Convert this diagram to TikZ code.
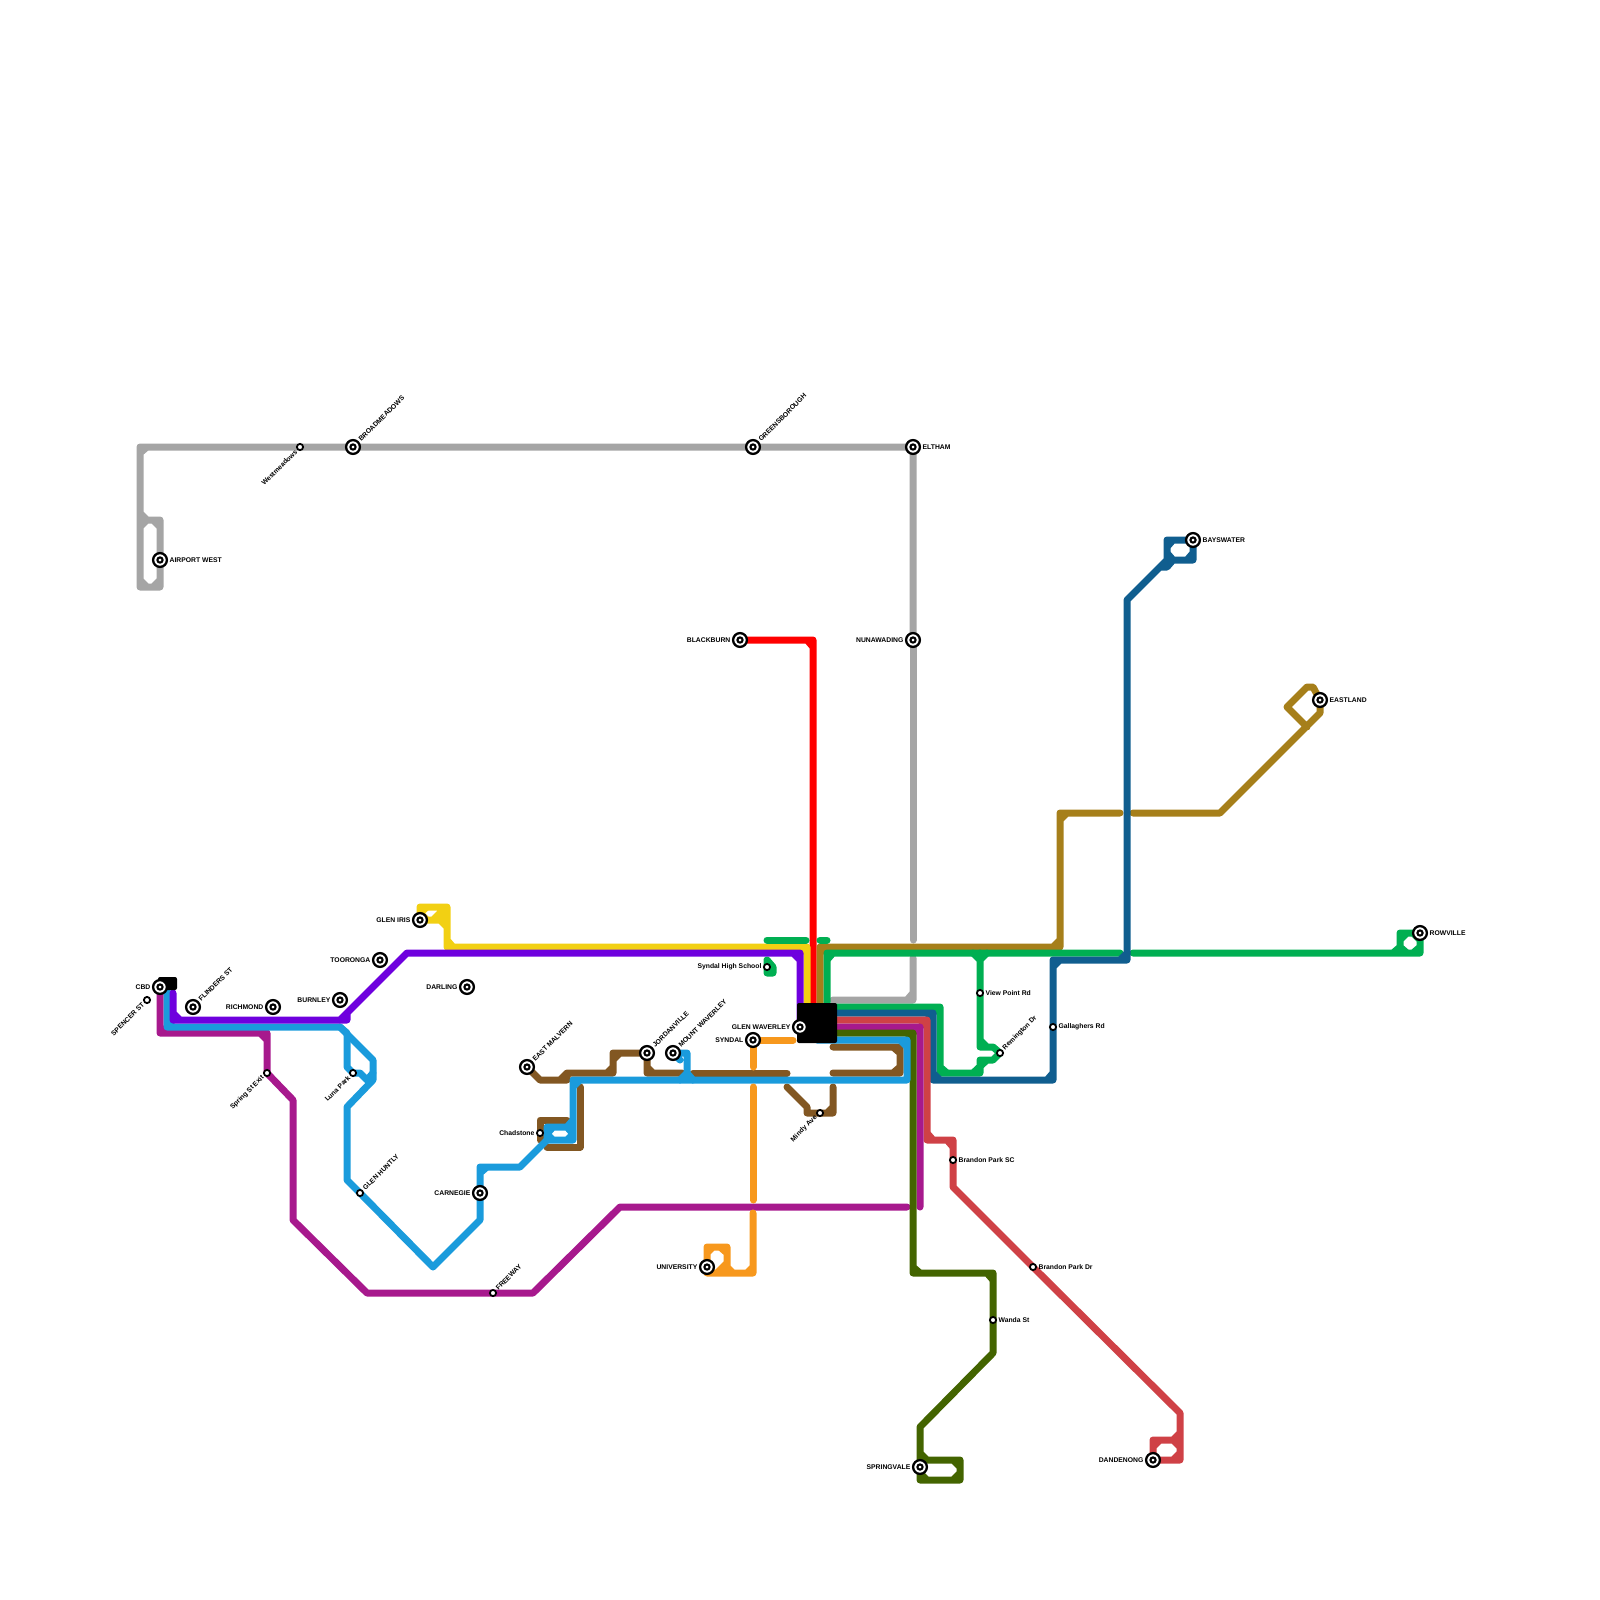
\documentclass[tikz,border=0pt]{standalone}
\usepackage{fontspec}
\setmainfont{Liberation Sans}
\usepackage{xcolor}
\definecolor{cGray}{HTML}{A5A5A5}
\definecolor{cRed}{HTML}{FF0000}
\definecolor{cYellow}{HTML}{F2D013}
\definecolor{cPurple}{HTML}{6E00DE}
\definecolor{cCyan}{HTML}{1A9BDC}
\definecolor{cMagenta}{HTML}{A7198D}
\definecolor{cBrown}{HTML}{825722}
\definecolor{cGold}{HTML}{A67F1A}
\definecolor{cGreen}{HTML}{00AF52}
\definecolor{cNavy}{HTML}{105E8F}
\definecolor{cCoral}{HTML}{CF4146}
\definecolor{cMoss}{HTML}{436400}
\definecolor{cOrange}{HTML}{F7981D}
\usetikzlibrary{backgrounds}
\tikzset{
  node-major/.style={draw=black,line width=1.15pt,fill=white,circle,inner sep=0pt,
    minimum size=6.9pt,
    path picture={\draw[line width=1.05pt] (path picture bounding box.center) circle (1.3pt);}},
  node-minor/.style={draw=black,line width=0.9pt,fill=white,circle,inner sep=0pt,
    minimum size=3.1pt},
  node-hub/.style={fill=black,rounded corners=1pt,inner sep=0pt},
  lbl/.style={font=\fontsize{3.4}{4}\selectfont\bfseries,inner sep=0.6pt},
  lbl-ne/.style={lbl,rotate=45,anchor=west},
  lbl-sw/.style={lbl,rotate=45,anchor=east},
  line-base/.style={line width=3.5pt,line cap=round,line join=round},
  line-gray/.style={line-base,draw=cGray},
  line-red/.style={line-base,draw=cRed},
  line-yellow/.style={line-base,draw=cYellow},
  line-purple/.style={line-base,draw=cPurple},
  line-cyan/.style={line-base,draw=cCyan},
  line-magenta/.style={line-base,draw=cMagenta},
  line-brown/.style={line-base,draw=cBrown},
  line-gold/.style={line-base,draw=cGold},
  line-green/.style={line-base,draw=cGreen},
  line-navy/.style={line-base,draw=cNavy},
  line-coral/.style={line-base,draw=cCoral},
  line-moss/.style={line-base,draw=cMoss},
  line-orange/.style={line-base,draw=cOrange},
}
\begin{document}
\begin{tikzpicture}[x=0.5pt,y=-0.5pt]
  \useasboundingbox (0,0) rectangle (1600,1600);
  % interchange blocks
  \node[node-hub,minimum width=9.5pt,minimum height=6.5pt] (cbdhub) at (167.5,983.5) {};
  \node[node-hub,minimum width=20pt,minimum height=20pt]   (glenhub) at (817,1023) {};
  % stations
  \node[node-minor,label={[lbl-sw]225:Westmeadows}]    (westmeadows) at (300,447) {};
  \node[node-major,label={[lbl-ne]45:BROADMEADOWS}]    (broadmeadows) at (353,447) {};
  \node[node-major,label={[lbl-ne]45:GREENSBOROUGH}]   (greensborough) at (753,447) {};
  \node[node-major,label={[lbl]right:ELTHAM}]          (eltham) at (913,447) {};
  \node[node-major,label={[lbl]right:AIRPORT WEST}]    (airportwest) at (160,560) {};
  \node[node-major,label={[lbl]left:BLACKBURN}]        (blackburn) at (740,640) {};
  \node[node-major,label={[lbl]left:NUNAWADING}]       (nunawading) at (913,640) {};
  \node[node-major,label={[lbl]right:BAYSWATER}]       (bayswater) at (1193,540) {};
  \node[node-major,label={[lbl]right:EASTLAND}]        (eastland) at (1320,700) {};
  \node[node-major,label={[lbl]right:ROWVILLE}]        (rowville) at (1420,933) {};
  \node[node-major,label={[lbl]left:GLEN IRIS}]        (gleniris) at (420,920) {};
  \node[node-major,label={[lbl]left:TOORONGA}]         (tooronga) at (380,960) {};
  \node[node-major,label={[lbl]left:DARLING}]          (darling) at (467,987) {};
  \node[node-major,label={[lbl]left:BURNLEY}]          (burnley) at (340,1000) {};
  \node[node-major,label={[lbl]left:RICHMOND}]         (richmond) at (273,1007) {};
  \node[node-major,label={[lbl-ne]45:FLINDERS ST}]     (flinders) at (193,1007) {};
  \node[node-major,label={[lbl]left:CBD}]              (cbd) at (160,987) {};
  \node[node-minor,label={[lbl-sw]225:SPENCER ST}]     (spencer) at (147,1000) {};
  \node[node-minor,label={[lbl-sw]225:Spring St Exit}] (springst) at (267,1073) {};
  \node[node-minor,label={[lbl-sw]225:Luna Park}]      (lunapark) at (353,1073) {};
  \node[node-minor,label={[lbl-ne]45:GLEN HUNTLY}]     (glenhuntly) at (360,1193) {};
  \node[node-major,label={[lbl]left:CARNEGIE}]         (carnegie) at (480,1193) {};
  \node[node-minor,label={[lbl-ne]45:FREEWAY}]         (freeway) at (493,1293) {};
  \node[node-minor,label={[lbl]left:Chadstone}]        (chadstone) at (540,1133) {};
  \node[node-major,label={[lbl-ne]45:EAST MALVERN}]    (eastmalvern) at (527,1067) {};
  \node[node-major,label={[lbl-ne]45:JORDANVILLE}]     (jordanville) at (647,1053) {};
  \node[node-major,label={[lbl-ne]45:MOUNT WAVERLEY}]  (mountwaverley) at (673,1053) {};
  \node[node-major,label={[lbl]left:SYNDAL}]           (syndal) at (753,1040) {};
  \node[node-major,label={[lbl]left:GLEN WAVERLEY}]    (glenwaverley) at (800,1027) {};
  \node[node-minor,label={[lbl]left:Syndal High School}] (syndalhigh) at (767,967) {};
  \node[node-major,label={[lbl]left:UNIVERSITY}]       (university) at (707,1267) {};
  \node[node-minor,label={[lbl-sw]225:Mindy Ave}]      (mindy) at (820,1113) {};
  \node[node-minor,label={[lbl]right:View Point Rd}]   (viewpoint) at (980,993) {};
  \node[node-minor,label={[lbl-ne]45:Remington Dr}]    (remington) at (1000,1053) {};
  \node[node-minor,label={[lbl]right:Gallaghers Rd}]   (gallaghers) at (1053,1027) {};
  \node[node-minor,label={[lbl]right:Brandon Park SC}] (brandonsc) at (953,1160) {};
  \node[node-minor,label={[lbl]right:Brandon Park Dr}] (brandondr) at (1033,1267) {};
  \node[node-minor,label={[lbl]right:Wanda St}]        (wanda) at (993,1320) {};
  \node[node-major,label={[lbl]left:SPRINGVALE}]       (springvale) at (920,1467) {};
  \node[node-major,label={[lbl]left:DANDENONG}]        (dandenong) at (1153,1460) {};
  % lines
  \begin{scope}[on background layer]
    \draw[line-gray] (nunawading.center) -- (eltham.center) -- (greensborough.center)
      -- (broadmeadows.center) -- (westmeadows.center) -- (140,447) -- (140,587) -- (160,587)
      -- (airportwest.center) -- (160,520) -- (147,520) -- (140,513)
      (140,453) -- (147,447) (140,527) -- (147,520) (153,520) -- (160,527)
      (140,580) -- (147,587) (153,587) -- (160,580);
    \draw[line-gray] (nunawading.center) -- (913,940);
    \draw[line-gray] (913,958) -- (913,1000) -- (833,1000) (913,993) -- (907,1000);
    \draw[line-red] (blackburn.center) -- (813,640) -- (glenhub.center -| 813,0)
      (807,640) -- (813,647);
    \draw[line-yellow] (glenhub.center -| 807,0) -- (807,947) -- (447,947) -- (447,907)
      -- (420,907) -- (gleniris.center) -- (447,920)
      (447,940) -- (453,947) (440,920) -- (447,927) (800,947) -- (807,953)
      (420,913) -- (427,907) (420,913) -- (427,920) (433,920) -- (440,913) -- (447,913);
    \draw[line-gold] (glenhub.center -| 820,0) -- (820,947) -- (1060,947) -- (1060,813) -- (1120,813)
      (1053,947) -- (1060,940) (1060,820) -- (1067,813) (820,953) -- (827,947);
    \draw[line-gold] (1133,813) -- (1220,813) -- (eastland.center |- 0,713) -- (eastland.center)
      -- (1313,687) -- (1307,687) -- (1287,707) -- (1307,727);
    \draw[line-green] (767,940) -- (806,940) (820,940) -- (827,940);
    \draw[line-green] (glenhub.center -| 827,0) -- (827,953) -- (1120,953) (827,960) -- (833,953);
    \draw[line-green] (1133,953) -- (1420,953) -- (rowville.center) -- (1400,933) -- (1400,947)
      -- (1393,953)
      (1400,940) -- (1407,933) (1413,933) -- (1420,940) (1420,947) -- (1413,953) (1407,953) -- (1400,947);
    \draw[line-green] (syndalhigh.center) -- (767,973) -- (773,973) -- (773,967) -- (767,960) -- cycle;
    \draw[line-green] (glenhub.center |- 0,1007) -- (940,1007) -- (940,1073) -- (980,1073)
      -- (980,1060) -- (993,1060) -- (remington.center) -- (993,1047) -- (980,1047)
      -- (viewpoint.center) -- (980,953)
      (933,1007) -- (940,1013) (940,1067) -- (947,1073) (973,1073) -- (987,1060) (980,1040) -- (987,1047)
      (973,953) -- (980,960) -- (987,953);
    \draw[line-navy] (glenhub.center |- 0,1013) -- (933,1013) -- (933,1080) -- (1053,1080)
      -- (gallaghers.center) -- (1053,960) -- (1127,960) -- (1127,600) -- (1167,560) -- (1167,540)
      -- (bayswater.center) -- (1193,560) -- (1173,560) -- (1167,567) -- (1160,567)
      (927,1013) -- (933,1020) (933,1073) -- (940,1080) (1047,1080) -- (1053,1073)
      (1053,967) -- (1060,960) (1120,960) -- (1127,953)
      (1167,547) -- (1173,540) (1187,560) -- (1193,553) (1167,553) -- (1173,560);
    \draw[line-coral] (glenhub.center |- 0,1020) -- (927,1020) -- (927,1140) -- (953,1140)
      -- (brandonsc.center) -- (953,1187) -- (brandondr.center) -- (1180,1413) -- (1180,1460)
      -- (dandenong.center) -- (1153,1440) -- (1173,1440) -- (1180,1433)
      (920,1020) -- (927,1027) (927,1133) -- (933,1140) (947,1140) -- (953,1147)
      (1153,1447) -- (1160,1440) (1173,1440) -- (1180,1447) (1180,1453) -- (1173,1460);
    \draw[line-magenta] (glenhub.center |- 0,1027) -- (920,1027) -- (920,1207)
      (913,1027) -- (920,1033);
    \draw[line-magenta] (907,1207) -- (620,1207) -- (533,1293) -- (freeway.center) -- (367,1293)
      -- (293,1220) -- (293,1100) -- (springst.center) -- (267,1033) -- (160,1033)
      -- (cbdhub.center -| 160,0)
      (260,1033) -- (267,1040) (160,1027) -- (167,1033);
    \draw[line-moss] (glenhub.center |- 0,1033) -- (913,1033) -- (913,1273) -- (993,1273)
      -- (wanda.center) -- (993,1353) -- (920,1427) -- (920,1460) -- (960,1460) -- (960,1480)
      -- (920,1480) -- (springvale.center)
      (907,1033) -- (913,1040) (913,1267) -- (920,1273) (987,1273) -- (993,1280) (920,1453) -- (927,1460)
      (953,1460) -- (960,1467) (960,1473) -- (953,1480) (920,1473) -- (927,1480);
    \draw[line-brown] (eastmalvern.center) -- (540,1080) -- (567,1080) -- (567,1073) -- (613,1073)
      -- (613,1053) -- (jordanville.center) -- (647,1073) -- (682,1073)
      (560,1080) -- (567,1073) (607,1073) -- (613,1067) (613,1060) -- (620,1053) (647,1067) -- (653,1073);
    \draw[line-brown] (693,1073) -- (787,1073);
    \draw[line-brown] (833,1047) -- (900,1047) -- (900,1073) -- (833,1073)
      (893,1047) -- (900,1053) (893,1073) -- (900,1067);
    \draw[line-brown] (787,1087) -- (807,1107) -- (807,1113) -- (mindy.center) -- (833,1113) -- (833,1087)
      (827,1113) -- (833,1107);
    \draw[line-brown] (580,1087) -- (580,1147) -- (547,1147);
    \draw[line-brown] (567,1120) -- (540,1120) -- (chadstone.center) -- (540,1140);
    \draw[line-cyan] (glenhub.center |- 0,1040) -- (907,1040) -- (907,1080) -- (573,1080) -- (573,1140)
      -- (547,1140) -- (547,1127) -- (567,1127) -- (573,1120)
      (900,1040) -- (907,1047) (573,1087) -- (580,1080)
      (547,1134) -- (553,1127) (547,1134) -- (553,1140) (567,1140) -- (573,1134) (567,1127) -- (573,1134);
    \draw[line-cyan] (547,1140) -- (520,1167) -- (480,1167) -- (carnegie.center)
      -- (480,1220) -- (433,1267) -- (glenhuntly.center) -- (347,1180) -- (347,1107) -- (373,1080)
      -- (373,1060) -- (340,1027) -- (167,1027) -- (167,990)
      (480,1173) -- (487,1167) (167,1020) -- (173,1027);
    \draw[line-cyan] (340,1027) -- (347,1033) -- (347,1067) -- (lunapark.center) -- (360,1073)
      -- (367,1080) -- (373,1073);
    \draw[line-cyan] (mountwaverley.center) -- (687,1053) -- (687,1073) -- (693,1080)
      (687,1073) -- (680,1080) (mountwaverley.center) -- (680,1060);
    \draw[line-purple] (173,993) -- (173,1020) -- (340,1020) -- (407,953) -- (800,953)
      -- (glenhub.center -| 800,0)
      (173,1013) -- (180,1020) (793,953) -- (800,960) (340,1020) -- (347,1020) -- (347,1013);
    \draw[line-orange] (syndal.center) -- (793,1040);
    \draw[line-orange] (syndal.center) -- (753,1067);
    \draw[line-orange] (753,1087) -- (753,1200);
    \draw[line-orange] (753,1213) -- (753,1273) -- (707,1273) -- (university.center) -- (707,1247)
      -- (727,1247) -- (727,1273)
      (707,1253) -- (713,1247) (720,1247) -- (727,1253) (727,1263) -- (717,1273)
      (727,1267) -- (733,1273) (747,1273) -- (753,1267);
  \end{scope}
\end{tikzpicture}
\end{document}
